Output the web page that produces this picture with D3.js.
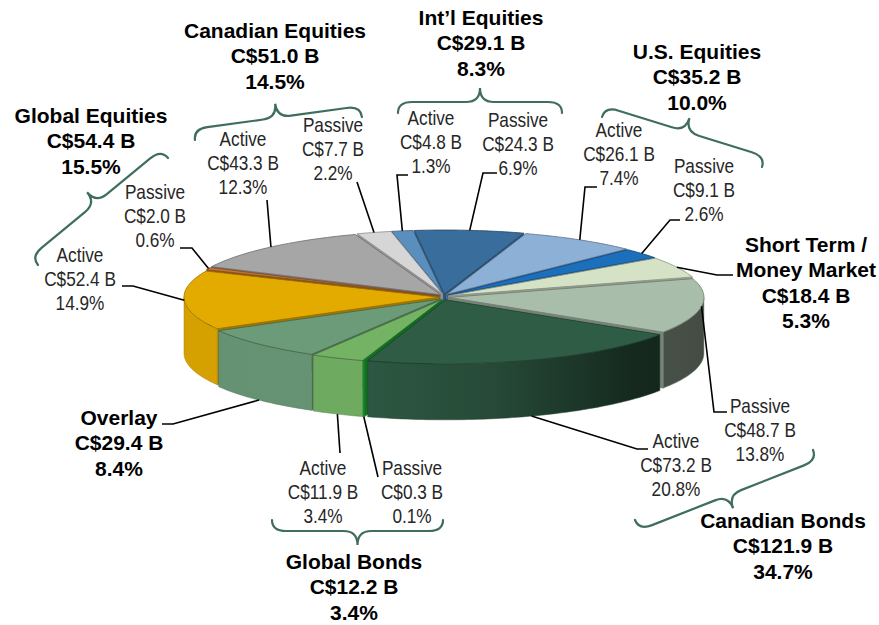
<!DOCTYPE html>
<html>
<head>
<meta charset="utf-8">
<script src="https://cdn.jsdelivr.net/npm/d3@7"></script>
<style>
body { margin: 0; background: #fff; }
.title { font-family: "Liberation Sans", Arial, sans-serif; font-weight: bold; font-size: 21px; fill: #000; }
.sub { font-family: "Liberation Sans", Arial, sans-serif; font-size: 21px; fill: #262626; }
.leader { fill: none; stroke: #000; stroke-width: 1.6; }
.brace { fill: none; stroke: #3f6e5d; stroke-width: 2.2; stroke-linecap: round; }
</style>
</head>
<body>
<script>
//slice data, clockwise from the right side of the pie
var sliceGroup = ["Canadian Bonds", "Canadian Bonds", "Global Bonds", "Global Bonds", "Overlay",
    "Global Equities", "Global Equities", "Canadian Equities", "Canadian Equities",
    "Int’l Equities", "Int’l Equities", "U.S. Equities", "U.S. Equities", "Short Term / Money Market"];
var sliceStyle = ["Passive", "Active", "Passive", "Active", "", "Active", "Passive", "Active", "Passive",
    "Active", "Passive", "Active", "Passive", ""];
var sliceValues = [48.7, 73.2, 0.3, 11.9, 29.4, 52.4, 2.0, 43.3, 7.7, 4.8, 24.3, 26.1, 9.1, 18.4];
var slicePercents = [13.8, 20.8, 0.1, 3.4, 8.4, 14.9, 0.6, 12.3, 2.2, 1.3, 6.9, 7.4, 2.6, 5.3];

//group totals
var groupNames = [["Global Equities"], ["Canadian Equities"], ["Int’l Equities"], ["U.S. Equities"],
    ["Short Term /", "Money Market"], ["Overlay"], ["Global Bonds"], ["Canadian Bonds"]];
var groupValues = [54.4, 51.0, 29.1, 35.2, 18.4, 29.4, 12.2, 121.9];
var groupPercents = [15.5, 14.5, 8.3, 10.0, 5.3, 8.4, 3.4, 34.7];

//colours (top face) for each slice
var sliceColors = ["#a9bdab", "#2f5c45", "#15a02b", "#74b364", "#6b9b79", "#e3ab00", "#c87530",
    "#a6a6a6", "#d6d6d6", "#5a8fbd", "#396d9b", "#8db0d6", "#1c6fba", "#d5e2c6"];

//layout: slice label (centre x, first baseline) and leader points from the text to the pie
var sliceLabelPos = [[760, 413], [676, 448], [412, 475], [323, 475], null, [80, 262], [155, 199],
    [243, 146], [333, 132], [431, 125], [518, 127], [619, 137], [704, 173], null];
var leaderPts = [
    [[727, 412], [714, 412]], [[648, 449], [637, 449]], [[378, 477]], [[340, 453]],
    [[162, 424], [173, 424]], [[122, 286], [133, 286]], [[180, 248], [192, 248]],
    [[267, 200]], [[357, 182]], [[408, 175], [397, 175]], [[497, 173], [483, 173]],
    [[597, 187], [585, 187]], [[680, 220], [670, 220]], [[733, 275], [717, 275]]];
var groupLabelPos = [[91, 123], [275, 38], [481, 25], [697, 59], [806, 252], [119, 425], [354, 569], [783, 528]];
//braces: two ends, tip on the left of p1->p2
var braces = [
    [[38, 265], [168, 158]], [[195, 140], [362, 117]], [[398, 113], [562, 113]],
    [[602, 117], [762, 167]], [[813, 450], [635, 520]], [[443, 520], [272, 520]]];

var width = 879, height = 625;
var cx = 444, cy = 297, rx = 255, ry = 64, depth = 56, explode = 5;

window.onload = draw();

function draw(){
    var svg = d3.select("body").append("svg")
        .attr("width", width)
        .attr("height", height);
    var defs = svg.append("defs");

    var start = (90 - 17) * Math.PI / 180;
    var pie = d3.pie().sort(null).value(function(d){ return d; })
        .startAngle(start).endAngle(start + 2 * Math.PI);
    var arcs = pie(sliceValues);

    //convert pie angles (0 = 12 o'clock) to screen angles (0 = 3 o'clock)
    var slices = arcs.map(function(d, i){
        var a = d.startAngle - Math.PI / 2, b = d.endAngle - Math.PI / 2, m = (a + b) / 2;
        return {i: i, a: a, b: b, m: m,
            ox: explode * Math.cos(m), oy: explode * Math.sin(m) * 0.6,
            color: sliceColors[i]};
    });

    function pt(s, t, dy){
        return [cx + s.ox + rx * Math.cos(t), cy + s.oy + ry * Math.sin(t) + (dy || 0)];
    }
    function arcPts(s, t0, t1, dy){
        var n = Math.max(2, Math.ceil(Math.abs(t1 - t0) / 0.02) + 1), out = [];
        for (var k = 0; k < n; k++){
            out.push(pt(s, t0 + (t1 - t0) * k / (n - 1), dy));
        }
        return out;
    }
    var line = d3.line().curve(d3.curveLinear);
    function shade(c, t){ return d3.interpolateRgb(c, "#000")(t); }

    //back slices first
    var order = slices.slice().sort(function(p, q){ return Math.sin(p.m) - Math.sin(q.m); });
    var wallLayer = svg.append("g"), sideLayer = svg.append("g"), topLayer = svg.append("g");

    order.forEach(function(s){
        var tip = [cx + s.ox, cy + s.oy];
        var tipLow = [tip[0], tip[1] + depth];
        var wallFill = shade(s.color, 0.3);

        //radial walls facing the viewer
        [[s.a, Math.cos(s.a) < 0], [s.b, Math.cos(s.b) > 0]].forEach(function(w){
            if (!w[1]) return;
            var e = pt(s, w[0]);
            wallLayer.append("path").attr("d", line([tip, e, [e[0], e[1] + depth], tipLow]) + "Z")
                .attr("fill", wallFill).attr("stroke", wallFill).attr("stroke-width", 0.5);
        });

        //outer wall, only the front half
        var gradId = "side" + s.i;
        var grad = defs.append("linearGradient").attr("id", gradId)
            .attr("gradientUnits", "userSpaceOnUse")
            .attr("x1", cx - rx).attr("x2", cx + rx).attr("y1", 0).attr("y2", 0);
        [[0, 0.06], [0.35, 0.05], [0.6, 0.2], [0.87, 0.55], [1, 0.6]].forEach(function(st){
            grad.append("stop").attr("offset", st[0]).attr("stop-color", shade(s.color, st[1]));
        });
        for (var k = -1; k <= 1; k++){
            var s0 = Math.max(s.a, 2 * Math.PI * k), s1 = Math.min(s.b, 2 * Math.PI * k + Math.PI);
            if (s1 > s0){
                var pts = arcPts(s, s0, s1, 0).concat(arcPts(s, s1, s0, depth));
                sideLayer.append("path").attr("d", line(pts) + "Z")
                    .attr("fill", "url(#" + gradId + ")")
                    .attr("stroke", shade(s.color, 0.25)).attr("stroke-width", 0.5);
            }
        }

        //top face
        topLayer.append("path").attr("d", line([tip].concat(arcPts(s, s.a, s.b, 0))) + "Z")
            .attr("fill", s.color)
            .attr("stroke", shade(s.color, 0.35)).attr("stroke-width", 0.8);
    });

    //leader lines: from text to the rim of each slice
    slices.forEach(function(s){
        var low = Math.sin(s.m) > 0.3;
        var anchor = pt(s, s.m, low ? depth : 0);
        svg.append("path").attr("class", "leader")
            .attr("d", line(leaderPts[s.i].concat([anchor])));
    });

    //slice labels (narrow)
    slices.forEach(function(s){
        var p = sliceLabelPos[s.i];
        if (!p) return;
        var lines = [sliceStyle[s.i], "C$" + sliceValues[s.i].toFixed(1) + " B", slicePercents[s.i].toFixed(1) + "%"];
        lines.forEach(function(l, k){
            svg.append("text").attr("class", "sub").attr("text-anchor", "middle")
                .attr("transform", "translate(" + p[0] + "," + (p[1] + k * 24.2) + ") scale(0.82,1)")
                .text(l);
        });
    });

    //group labels
    groupNames.forEach(function(n, i){
        var lines = n.concat(["C$" + groupValues[i].toFixed(1) + " B", groupPercents[i].toFixed(1) + "%"]);
        var t = svg.append("text").attr("class", "title").attr("text-anchor", "middle");
        lines.forEach(function(l, k){
            t.append("tspan").attr("x", groupLabelPos[i][0]).attr("y", groupLabelPos[i][1] + k * 25.3).text(l);
        });
    });

    //curly braces
    braces.forEach(function(b){
        var dx = b[1][0] - b[0][0], dy = b[1][1] - b[0][1];
        var L = Math.sqrt(dx * dx + dy * dy), ang = Math.atan2(dy, dx) * 180 / Math.PI;
        var h1 = 11, h2 = 14, r1 = 14, r2 = 14;
        var d = "M0,0 Q0," + (-h1) + " " + r1 + "," + (-h1) +
            " L" + (L / 2 - r2) + "," + (-h1) +
            " Q" + (L / 2) + "," + (-h1) + " " + (L / 2) + "," + (-h1 - h2) +
            " Q" + (L / 2) + "," + (-h1) + " " + (L / 2 + r2) + "," + (-h1) +
            " L" + (L - r1) + "," + (-h1) +
            " Q" + L + "," + (-h1) + " " + L + ",0";
        svg.append("path").attr("class", "brace")
            .attr("transform", "translate(" + b[0][0] + "," + b[0][1] + ") rotate(" + ang + ")")
            .attr("d", d);
    });
}
</script>
</body>
</html>
